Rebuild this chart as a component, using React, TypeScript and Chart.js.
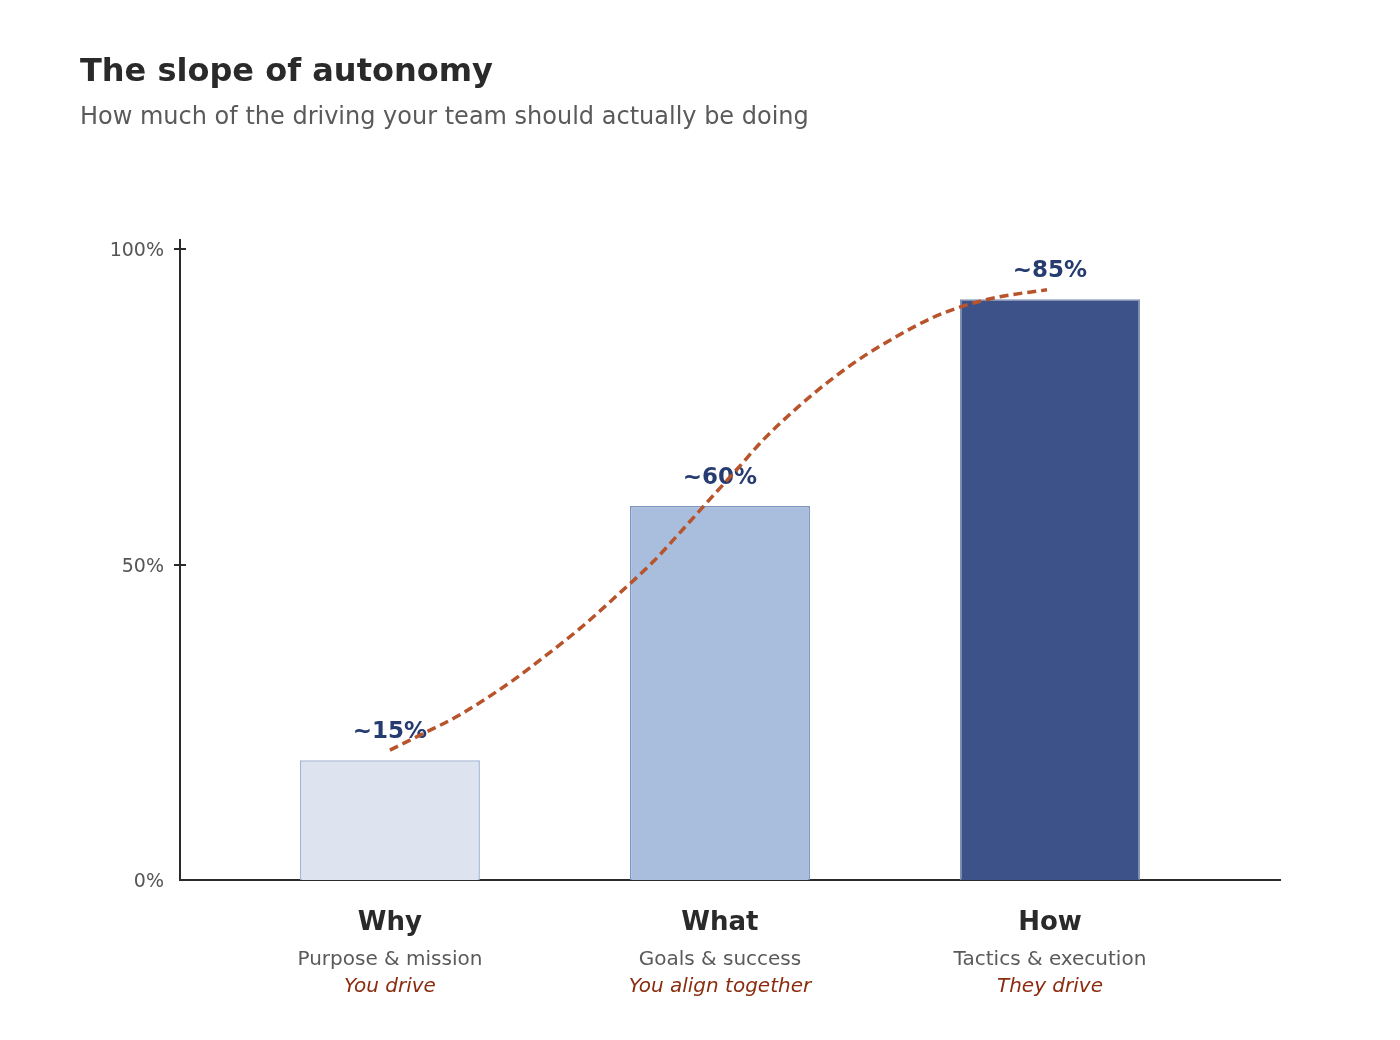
import React, { useEffect, useRef } from 'react';
import { Chart, registerables } from 'chart.js';

Chart.register(...registerables);

// Chart data
const categories = ['Why', 'What', 'How'];
const subLabels = ['Purpose & mission', 'Goals & success', 'Tactics & execution'];
const ownerLabels = ['You drive', 'You align together', 'They drive'];
const barValues = [19.0, 59.3, 92.1];
const valueLabels = ['~15%', '~60%', '~85%'];
const yTicks = [0, 50, 100];
const xTicks = [0, 1, 2];

// dashed "slope" curve (x in category units)
const curveX = [0, 0.1, 0.212, 0.374, 0.475, 0.576, 0.677, 0.798, 0.879, 0.961, 1.051, 1.131, 1.232, 1.333, 1.434, 1.535, 1.645, 1.748, 1.848, 1.991];
const curveY = [20.6, 23.2, 26.2, 31.7, 35.7, 39.9, 44.6, 50.5, 55.1, 59.9, 65.1, 69.8, 74.8, 79.2, 83.0, 86.2, 89.2, 91.2, 92.5, 93.6];

const FONT = '"DejaVu Sans", Verdana, sans-serif';
const barFill = ['#dde3ef', '#a9bedd', '#3c5289'];
const barBorder = ['#a3b5d3', '#7b93bd', '#7d8fb3'];

const overlayPlugin = {
  id: 'overlay',
  afterDatasetDraw(chart: any, args: any) {
    if (args.index !== 1) return;
    const { ctx } = chart;
    ctx.save();
    ctx.font = `bold 23px ${FONT}`;
    ctx.fillStyle = '#263b6f';
    ctx.textAlign = 'center';
    ctx.textBaseline = 'middle';
    args.meta.data.forEach((bar: any, i: number) => {
      ctx.fillText(valueLabels[i], bar.x, bar.y - 28);
    });
    ctx.restore();
  },
  afterDraw(chart: any) {
    const { ctx, chartArea, scales } = chart;
    ctx.save();

    // tick marks crossing the y axis
    ctx.strokeStyle = '#2a2a2a';
    ctx.lineWidth = 2;
    yTicks.forEach((v) => {
      if (v === 0) return;
      const y = Math.round(scales.y.getPixelForValue(v));
      ctx.beginPath();
      ctx.moveTo(chartArea.left - 6, y);
      ctx.lineTo(chartArea.left + 6, y);
      ctx.stroke();
    });

    // category labels under the axis
    ctx.textAlign = 'center';
    ctx.textBaseline = 'alphabetic';
    categories.forEach((c, i) => {
      const x = scales.x.getPixelForValue(i);
      ctx.font = `bold 26px ${FONT}`;
      ctx.fillStyle = '#2a2a2a';
      ctx.fillText(c, x, 930);
      ctx.font = `20px ${FONT}`;
      ctx.fillStyle = '#5a5a5a';
      ctx.fillText(subLabels[i], x, 965);
      ctx.font = `italic 20px ${FONT}`;
      ctx.fillStyle = '#8a2c0e';
      ctx.fillText(ownerLabels[i], x, 992);
    });

    // title + subtitle
    ctx.textAlign = 'left';
    ctx.font = `bold 32px ${FONT}`;
    ctx.fillStyle = '#2a2a2a';
    ctx.fillText('The slope of autonomy', 80, 81);
    ctx.font = `24px ${FONT}`;
    ctx.fillStyle = '#5a5a5a';
    ctx.fillText('How much of the driving your team should actually be doing', 80, 124);

    ctx.restore();
  },
};

function SlopeChart() {
  const canvasRef = useRef<HTMLCanvasElement | null>(null);
  const chartRef = useRef<Chart | null>(null);

  useEffect(() => {
    if (!canvasRef.current) return;
    if (chartRef.current) chartRef.current.destroy();

    Chart.defaults.font.family = FONT;

    chartRef.current = new Chart(canvasRef.current, {
      type: 'bar',
      data: {
        datasets: [
          {
            type: 'line',
            label: 'slope',
            data: curveX.map((x, i) => ({ x, y: curveY[i] })),
            borderColor: '#b8542b',
            borderWidth: 3.5,
            borderDash: [9, 5],
            pointRadius: 0,
            cubicInterpolationMode: 'monotone',
            fill: false,
            order: 0,
          } as any,
          {
            type: 'bar',
            label: 'autonomy',
            data: barValues.map((y, i) => ({ x: i, y })),
            backgroundColor: barFill,
            borderColor: barBorder,
            borderWidth: 1.5,
            barPercentage: 180 / 330,
            categoryPercentage: 1,
            order: 1,
          } as any,
        ],
      },
      options: {
        animation: false,
        responsive: true,
        maintainAspectRatio: false,
        layout: { padding: { top: 240, right: 120, bottom: 0, left: 0 } },
        plugins: {
          legend: { display: false },
          tooltip: { enabled: false },
        },
        scales: {
          x: {
            type: 'linear',
            min: -0.636,
            max: 2.697,
            offset: false,
            grid: { display: false, drawTicks: false },
            ticks: { display: false },
            border: { display: true, color: '#2a2a2a', width: 2 },
            afterBuildTicks: (scale: any) => {
              scale.ticks = xTicks.map((value) => ({ value }));
            },
            afterFit: (scale: any) => {
              scale.height = 160;
            },
          },
          y: {
            min: 0,
            max: 101.5,
            grid: { display: false, drawTicks: false },
            border: { display: true, color: '#2a2a2a', width: 2 },
            afterBuildTicks: (scale: any) => {
              scale.ticks = yTicks.map((value) => ({ value }));
            },
            afterFit: (scale: any) => {
              scale.width = 180;
            },
            ticks: {
              padding: 16,
              labelOffset: 2,
              color: '#555555',
              font: { size: 19 },
              callback: (v: any) => `${v}%`,
            },
          },
        },
      },
      plugins: [overlayPlugin],
    });

    return () => {
      if (chartRef.current) {
        chartRef.current.destroy();
        chartRef.current = null;
      }
    };
  }, []);

  return (
    <div style={{ position: 'relative', width: 1400, height: 1040 }}>
      <canvas ref={canvasRef} />
    </div>
  );
}

export default function App() {
  useEffect(() => {
    document.body.style.margin = '0';
    document.body.style.background = '#ffffff';
  }, []);
  return <SlopeChart />;
}
